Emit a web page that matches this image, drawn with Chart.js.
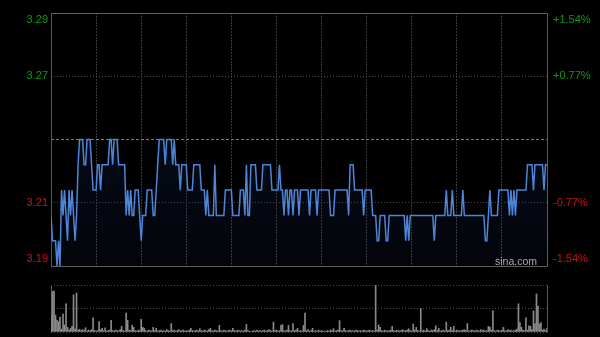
<!DOCTYPE html>
<html>
<head>
<meta charset="utf-8">
<script src="https://cdn.jsdelivr.net/npm/chart.js@4/dist/chart.umd.min.js"></script>
<style>
  html, body { margin: 0; background: #000; }
  #wrap { position: relative; width: 600px; height: 337px; overflow: hidden; }
  canvas { position: absolute; left: 0; }
  #priceChart { top: 0; }
  #volChart { top: 275px; }
</style>
</head>
<body>
<div id="wrap">
  <canvas id="priceChart" width="600" height="275"></canvas>
  <canvas id="volChart" width="600" height="62"></canvas>
</div>
<script>
// HK session 09:30-12:00 + 13:00-16:00 = 330 minutes, one vertical grid line per half hour
const SESSION_MINUTES = 330;
const GRID_MINUTES = [0, 30, 60, 90, 120, 150, 180, 210, 240, 270, 300, 330];

// previous close 3.24, axis spans ±0.05
const PRICE_TICKS  = [3.19, 3.215, 3.24, 3.265, 3.29];
const PRICE_LABELS = ["3.19", "3.21", "", "3.27", "3.29"];
const PCT_LABELS   = ["-1.54%", "-0.77%", "", "+0.77%", "+1.54%"];

const VOL_TICKS = [0, 50, 100];

// one price per minute
const prices = [
  3.21,3.20,3.20,3.20,3.19,3.20,3.19,3.22,3.21,3.22,3.21,3.20,3.22,3.21,3.22,3.21,3.20,3.21,3.23,3.24,
  3.24,3.24,3.23,3.23,3.24,3.24,3.24,3.23,3.22,3.22,3.22,3.23,3.23,3.22,3.23,3.23,3.23,3.23,3.23,3.24,
  3.24,3.23,3.24,3.24,3.24,3.23,3.23,3.23,3.23,3.23,3.21,3.22,3.21,3.22,3.21,3.21,3.22,3.22,3.22,3.21,
  3.20,3.21,3.21,3.21,3.22,3.22,3.22,3.22,3.21,3.21,3.22,3.23,3.24,3.24,3.24,3.24,3.23,3.24,3.24,3.24,
  3.24,3.23,3.24,3.23,3.23,3.23,3.22,3.23,3.23,3.23,3.23,3.22,3.22,3.22,3.22,3.23,3.23,3.23,3.23,3.23,
  3.22,3.22,3.22,3.21,3.22,3.21,3.21,3.21,3.21,3.23,3.21,3.21,3.21,3.21,3.21,3.21,3.22,3.22,3.22,3.22,
  3.22,3.21,3.21,3.21,3.21,3.21,3.22,3.22,3.22,3.21,3.23,3.21,3.21,3.23,3.23,3.23,3.23,3.22,3.22,3.22,
  3.22,3.23,3.23,3.23,3.23,3.23,3.23,3.22,3.22,3.22,3.22,3.22,3.23,3.22,3.22,3.21,3.22,3.22,3.21,3.22,
  3.22,3.21,3.22,3.22,3.22,3.21,3.22,3.22,3.22,3.22,3.22,3.22,3.21,3.22,3.22,3.22,3.22,3.21,3.22,3.22,
  3.22,3.22,3.22,3.22,3.22,3.22,3.21,3.21,3.21,3.22,3.22,3.22,3.22,3.22,3.22,3.22,3.22,3.22,3.21,3.23,
  3.23,3.23,3.22,3.22,3.22,3.22,3.22,3.22,3.21,3.22,3.22,3.22,3.22,3.22,3.21,3.21,3.21,3.20,3.20,3.21,
  3.21,3.21,3.21,3.20,3.20,3.21,3.21,3.21,3.21,3.21,3.21,3.21,3.21,3.21,3.21,3.21,3.20,3.21,3.20,3.21,
  3.21,3.21,3.21,3.21,3.21,3.21,3.21,3.21,3.21,3.21,3.21,3.21,3.21,3.21,3.21,3.20,3.21,3.21,3.21,3.21,
  3.21,3.21,3.21,3.22,3.21,3.21,3.21,3.22,3.21,3.21,3.21,3.21,3.21,3.21,3.22,3.21,3.21,3.21,3.21,3.21,
  3.21,3.21,3.21,3.21,3.21,3.21,3.21,3.21,3.21,3.20,3.20,3.21,3.22,3.21,3.21,3.21,3.21,3.21,3.22,3.22,
  3.22,3.22,3.22,3.22,3.22,3.21,3.22,3.21,3.22,3.21,3.22,3.22,3.22,3.22,3.22,3.22,3.22,3.23,3.23,3.23,
  3.23,3.22,3.23,3.23,3.23,3.23,3.23,3.23,3.22,3.23,3.23,
];

// volume per minute, relative to the biggest bar (= 100)
const volumes = [
  35,86,87,36,25,22,32,6,38,15,60,10,4,8,12,79,7,83,4,6,
  3,5,3,9,2,4,3,5,30,3,2,3,22,5,8,3,9,2,3,4,
  25,3,2,4,3,2,5,12,3,2,40,25,4,3,14,10,3,2,4,3,
  27,10,8,3,2,4,3,2,10,3,8,2,3,4,2,3,2,5,3,2,
  18,3,4,2,3,5,2,3,4,2,3,2,4,8,3,2,3,4,2,7,
  3,2,4,3,2,5,8,3,2,4,3,2,14,3,2,4,3,2,3,4,
  2,8,3,2,4,3,2,3,2,4,16,3,2,1,2,3,2,4,2,3,
  2,3,4,2,3,5,3,2,21,3,4,2,3,14,16,3,2,4,14,3,
  2,18,3,4,8,2,3,2,14,40,3,5,2,3,8,2,3,2,4,2,
  3,2,1,2,3,2,4,3,7,2,3,4,24,3,2,8,3,2,3,4,
  2,3,2,4,3,2,3,2,4,3,2,3,4,2,3,2,100,4,15,10,
  3,2,4,3,2,3,4,12,3,2,4,3,2,3,5,2,3,4,7,3,
  2,17,4,10,3,2,50,3,4,2,7,3,2,4,3,5,13,3,8,2,
  3,4,2,21,3,4,10,3,12,2,4,3,2,3,4,5,3,18,2,3,
  4,3,2,4,3,2,5,3,4,2,3,12,10,4,45,3,2,4,3,2,
  4,10,3,2,5,3,4,2,3,4,6,60,20,10,4,3,30,4,13,12,
  5,45,18,81,55,17,20,4,6,3,8,
];

const THEME = {
  up:      "#129a12",
  down:    "#cc1414",
  frame:   "#5c5c5c",
  grid:    "#4a4a4a",
  vgrid:   "#3a3a3a",
  mid:     "#7a7a7a",
  line:    "#4d85d8",
  volume:  "#8a8a8a",
  mark:    "#a8a8a8",
};

Chart.defaults.font.family = 'Arial, "Liberation Sans", sans-serif';
Chart.defaults.font.size = 11;

// ---------------------------------------------------------------------------
// Plugins
// ---------------------------------------------------------------------------
const framePlugin = {
  id: "frame",
  beforeDatasetsDraw(chart, args, opts) {
    const { ctx, chartArea: a } = chart;
    const l = Math.floor(a.left) + 0.5, r = Math.floor(a.right) + 0.5;
    const t = Math.floor(a.top) + 0.5,  b = Math.floor(a.bottom) + 0.5;
    ctx.save();
    ctx.strokeStyle = THEME.frame;
    ctx.lineWidth = 1;
    ctx.beginPath();
    ctx.moveTo(l, t); ctx.lineTo(l, b);
    ctx.moveTo(r, t); ctx.lineTo(r, b);
    if (opts.full) {
      ctx.moveTo(l, t); ctx.lineTo(r, t);
      ctx.moveTo(l, b); ctx.lineTo(r, b);
    }
    ctx.stroke();
    ctx.restore();
  },
};

const watermarkPlugin = {
  id: "watermark",
  afterDatasetsDraw(chart) {
    const { ctx, chartArea: a } = chart;
    ctx.save();
    ctx.font = '10.5px Arial, "Liberation Sans", sans-serif';
    ctx.fillStyle = THEME.mark;
    ctx.textAlign = "right";
    ctx.textBaseline = "middle";
    ctx.fillText("sina.com", a.right - 10, a.bottom - 4);
    ctx.restore();
  },
};

// edge labels sit inside the frame: pad them with a blank line
function edgeLabel(labels) {
  return (value, i) => {
    if (i === labels.length - 1) return ["", labels[i]];
    if (i === 0) return [labels[i], ""];
    return labels[i];
  };
}

const tickColor = ctx => (ctx.index > 2 ? THEME.up : THEME.down);
const fixedTicks = values => scale => { scale.ticks = values.map(value => ({ value })); };

// fixed axis size, and no extra room asked for the edge labels
const fixSize = (w, h) => s => {
  if (w != null) s.width = w;
  if (h != null) s.height = h;
  s.paddingTop = s.paddingBottom = s.paddingLeft = s.paddingRight = 0;
};

// ---------------------------------------------------------------------------
// Price chart
// ---------------------------------------------------------------------------
function buildPriceChart() {
  return new Chart(document.getElementById("priceChart"), {
    type: "line",
    data: {
      datasets: [{
        data: prices.map((p, i) => ({ x: i, y: p })),
        borderColor: THEME.line,
        borderWidth: 1.5,
        pointRadius: 0,
        tension: 0,
        fill: "start",
        backgroundColor: ctx => {
          const area = ctx.chart.chartArea;
          if (!area) return "rgba(20,40,90,0.2)";
          const g = ctx.chart.ctx.createLinearGradient(0, area.top, 0, area.bottom);
          g.addColorStop(0, "rgba(25,45,100,0.35)");
          g.addColorStop(1, "rgba(25,45,100,0.10)");
          return g;
        },
      }],
    },
    options: {
      responsive: false,
      animation: false,
      layout: { padding: { top: 13, bottom: 9, left: 0, right: 0 } },
      plugins: {
        legend: { display: false },
        tooltip: { enabled: false },
        frame: { full: true },
      },
      scales: {
        x: {
          type: "linear",
          min: 0,
          max: SESSION_MINUTES,
          afterBuildTicks: fixedTicks(GRID_MINUTES),
          afterFit: fixSize(null, 0),
          ticks: { display: false },
          grid: { color: THEME.vgrid, drawTicks: false },
          border: { display: false, dash: [2, 1] },
        },
        y: {
          position: "left",
          min: 3.19,
          max: 3.29,
          afterBuildTicks: fixedTicks(PRICE_TICKS),
          afterFit: fixSize(51, null),
          ticks: { padding: 3, color: tickColor, callback: edgeLabel(PRICE_LABELS) },
          grid: { color: ctx => (ctx.index === 2 ? THEME.mid : THEME.grid), drawTicks: false },
          border: { display: false, dash: ctx => (ctx.index === 2 ? [3, 2] : [1, 2]) },
        },
        y1: {
          position: "right",
          min: 3.19,
          max: 3.29,
          afterBuildTicks: fixedTicks(PRICE_TICKS),
          afterFit: fixSize(53, null),
          ticks: { padding: 6, color: tickColor, callback: edgeLabel(PCT_LABELS) },
          grid: { drawOnChartArea: false, drawTicks: false },
          border: { display: false },
        },
      },
    },
    plugins: [framePlugin, watermarkPlugin],
  });
}

// ---------------------------------------------------------------------------
// Volume chart
// ---------------------------------------------------------------------------
function buildVolumeChart() {
  return new Chart(document.getElementById("volChart"), {
    type: "bar",
    data: {
      datasets: [{
        data: volumes.map((v, i) => ({ x: i, y: v })),
        backgroundColor: THEME.volume,
        barThickness: 1,
      }],
    },
    options: {
      responsive: false,
      animation: false,
      layout: { padding: { top: 10, bottom: 5, left: 51, right: 53 } },
      plugins: {
        legend: { display: false },
        tooltip: { enabled: false },
        frame: { full: false },
      },
      scales: {
        x: {
          type: "linear",
          offset: false,
          min: 0,
          max: SESSION_MINUTES,
          afterFit: fixSize(null, 0),
          ticks: { display: false },
          grid: { display: false, offset: false },
          border: { display: false },
        },
        y: {
          min: 0,
          max: 100,
          afterBuildTicks: fixedTicks(VOL_TICKS),
          afterFit: fixSize(0, null),
          ticks: { display: false },
          grid: { color: THEME.grid, drawTicks: false },
          border: { display: false, dash: [1, 2] },
        },
      },
    },
    plugins: [framePlugin],
  });
}

buildPriceChart();
buildVolumeChart();
</script>
</body>
</html>
